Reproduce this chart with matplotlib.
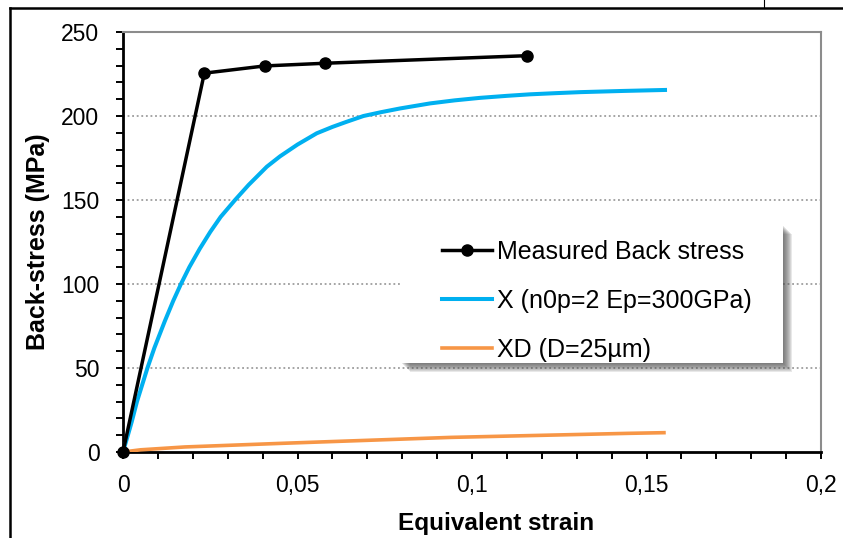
import matplotlib
matplotlib.use("Agg")
import matplotlib.pyplot as plt
from matplotlib.patches import Rectangle
from matplotlib.lines import Line2D
from matplotlib.ticker import MultipleLocator

plt.rcParams['font.family'] = ['Liberation Sans', 'DejaVu Sans']

# values
meas_strain = [0, 0.0233, 0.0406, 0.0579, 0.1157]
meas_stress = [0, 225.5, 229.8, 231.4, 235.9]

x_strain = [0, 0.0014, 0.0025, 0.0040, 0.0055, 0.0070, 0.0090, 0.0105, 0.0120,
            0.0144, 0.0166, 0.0190, 0.0220, 0.0250, 0.0280, 0.0321, 0.0360,
            0.0412, 0.0450, 0.0500, 0.0555, 0.0600, 0.0640, 0.0689, 0.0740,
            0.0794, 0.0880, 0.0950, 0.1023, 0.1100, 0.1166, 0.1240, 0.1310,
            0.1430, 0.1553]
x_stress = [0, 10, 18, 30, 40, 50, 62, 70, 78, 90, 100, 110, 121, 131, 140,
            150, 159, 169.8, 176, 183, 189.7, 193.5, 196.5, 200, 202.3,
            204.5, 207.5, 209.3, 210.8, 212, 212.9, 213.6, 214.2, 214.9, 215.5]

xd_strain = [0, 0.005, 0.0177, 0.046, 0.094, 0.1447, 0.155]
xd_stress = [0, 1.3, 3.0, 5.2, 8.7, 11.1, 11.5]

labels = ['Measured Back stress', 'X (n0p=2 Ep=300GPa)', 'XD (D=25\u00b5m)']
xtick_vals = [0, 0.05, 0.1, 0.15, 0.2]
xtick_labels = ['0', '0,05', '0,1', '0,15', '0,2']

fig = plt.figure(figsize=(8.43, 5.38), dpi=100)
ax = fig.add_axes([123 / 843, 86 / 538, 698 / 843, 420 / 538])

ax.plot(x_strain, x_stress, color='#00B0F0', lw=2.9, label=labels[1], zorder=3,
        solid_joinstyle='round')
ax.plot(xd_strain, xd_stress, color='#F79646', lw=2.6, label=labels[2], zorder=3)
ax.plot(meas_strain, meas_stress, color='black', lw=2.5, marker='o', ms=8,
        label=labels[0], zorder=4, clip_on=False)

ax.set_xlim(0, 0.2)
ax.set_ylim(0, 250)
ax.set_xticks(xtick_vals)
ax.set_xticklabels(xtick_labels)
ax.xaxis.set_minor_locator(MultipleLocator(0.01))
ax.yaxis.set_major_locator(MultipleLocator(50))
ax.yaxis.set_minor_locator(MultipleLocator(10))
ax.tick_params(which='both', direction='out', length=5, width=1.4, color='black')
ax.tick_params(axis='x', labelsize=16.5, pad=11)
ax.tick_params(axis='y', labelsize=16.5, pad=12)

for y in [50, 100, 150, 200]:
    ax.axhline(y, color='#8c8c8c', lw=1.1, ls=(0, (1.2, 1.8)), zorder=1)

for s in ['left', 'bottom']:
    ax.spines[s].set_linewidth(2)
    ax.spines[s].set_color('black')
for s in ['top', 'right']:
    ax.spines[s].set_linewidth(1.5)
    ax.spines[s].set_color('#8c8c8c')

ax.set_xlabel('Equivalent strain', fontsize=17.5, fontweight='bold')
ax.xaxis.set_label_coords(0.535, -0.142)
ax.set_ylabel('Back-stress (MPa)', fontsize=18, fontweight='bold')
ax.yaxis.set_label_coords(-0.105, 0.5)

# legend box with soft shadow
px, py = 1 / 698, 1 / 420
bx0, by0 = (401 - 123) * px, (452 - 363) * py
bw, bh = 382 * px, 138 * py
for i in range(1, 10):
    ax.add_patch(Rectangle((bx0 + i * px, by0 - i * py), bw, bh, transform=ax.transAxes,
                           facecolor='#505050', edgecolor='none', alpha=0.13, zorder=5))
ax.add_patch(Rectangle((bx0, by0), bw, bh, transform=ax.transAxes,
                       facecolor='white', edgecolor='none', zorder=6))

h, l = ax.get_legend_handles_labels()
order = [l.index(t) for t in labels]
leg = ax.legend([h[i] for i in order], [l[i] for i in order], loc='upper left',
                bbox_to_anchor=((442 - 123) * px, (452 - 240) * py), frameon=False,
                fontsize=18, handlelength=2.0, handletextpad=0.2, labelspacing=1.0,
                borderpad=0, borderaxespad=0)
leg.set_zorder(7)

# outer frame
fig.add_artist(Line2D([9.5 / 843, 1], [1 - 8 / 538, 1 - 8 / 538], color='black', lw=1.8))
fig.add_artist(Line2D([9.5 / 843, 9.5 / 843], [0, 1 - 8 / 538], color='black', lw=1.8))
fig.add_artist(Line2D([764 / 843, 764 / 843], [1 - 8 / 538, 1], color='black', lw=0.8))

fig.savefig('out.png', dpi=100)
